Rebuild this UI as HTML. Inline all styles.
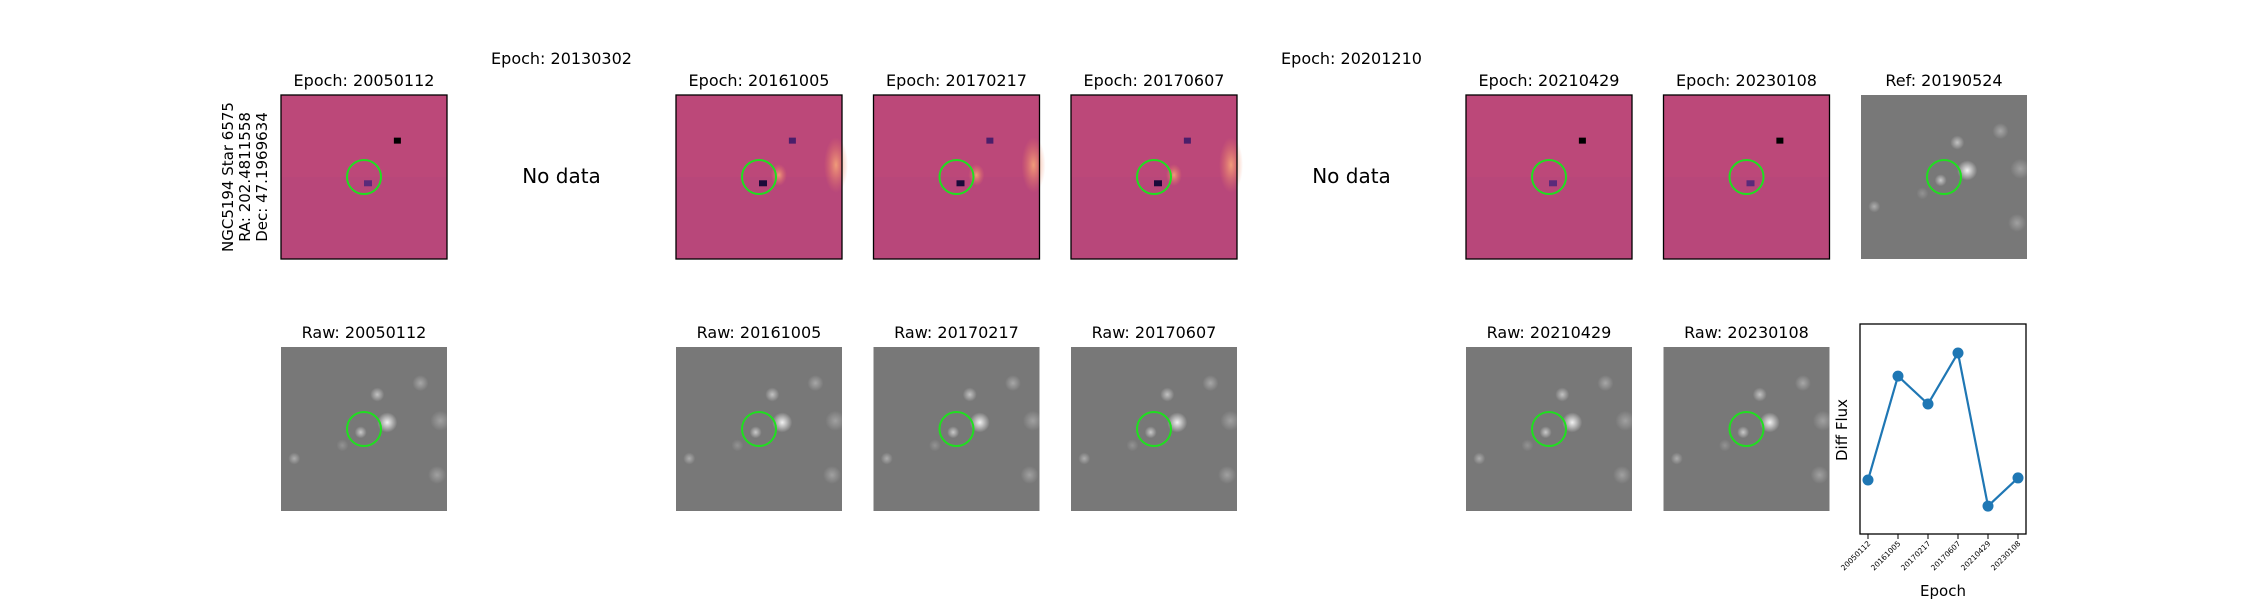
<!DOCTYPE html>
<html><head><meta charset="utf-8">
<style>
html,body{margin:0;padding:0;background:#fff;}
body{width:2250px;height:600px;position:relative;overflow:hidden;font-family:"DejaVu Sans","Liberation Sans",sans-serif;}
svg{position:absolute;left:0;top:0;}
</style></head>
<body>
<svg id="fig" width="2250" height="600" viewBox="0 0 2250 600" xmlns="http://www.w3.org/2000/svg">
<defs>
<radialGradient id="star" cx="50%" cy="50%" r="50%">
<stop offset="0%" stop-color="#ffffff" stop-opacity="1"/>
<stop offset="100%" stop-color="#ffffff" stop-opacity="0"/>
</radialGradient>
<radialGradient id="hot" cx="50%" cy="50%" r="50%">
<stop offset="0%" stop-color="#fdb07a" stop-opacity="1"/>
<stop offset="100%" stop-color="#f08060" stop-opacity="0"/>
</radialGradient>
</defs>
<g id="panels"></g>
<g id="chart"></g>
</svg>
<script>
const NS='http://www.w3.org/2000/svg';
function mk(tag,attrs,parent){const e=document.createElementNS(NS,tag);for(const k in attrs)e.setAttribute(k,attrs[k]);parent.appendChild(e);return e;}
const panels=document.getElementById('panels');
const colX=c=>281+197.5*c;
const W=166,H=164,TOP=95,BOT=347;

const diffEpochs=['20050112','20130302','20161005','20170217','20170607','20201210','20210429','20230108'];
const hasData=[true,false,true,true,true,false,true,true];

function title(x,y,txt,name){const t=mk('text',{x:x,y:y,'text-anchor':'middle','font-size':'16','fill':'#000'},panels);t.textContent=txt;}

function diffPanel(c,ep){
  const x=colX(c);
  const g=mk('g',{},panels);
  
  
  mk('rect',{x:x,y:TOP,width:W,height:H,fill:'#b8477a'},g);
  mk('rect',{x:x,y:TOP,width:W,height:H/2,fill:'#c04a78',opacity:0.5},g);
  if(c>=2&&c<=4){mk('ellipse',{cx:x+W-6,cy:TOP+70,rx:12,ry:28,fill:'url(#hot)',opacity:0.8},g);mk('ellipse',{cx:x+W*0.62,cy:TOP+80,rx:8,ry:11,fill:'url(#hot)',opacity:0.8},g);}
  mk('rect',{x:x+W*0.5,y:TOP+H*0.52,width:8,height:6,fill:c>=2&&c<=4?'#1a0a3a':'#5a2a7a'},g);
  mk('rect',{x:x+W*0.68,y:TOP+H*0.26,width:7,height:6,fill:c===6||c===7||c===0?'#000':'#4a1e6a'},g);
  mk('circle',{cx:x+W*0.5,cy:TOP+H*0.5,r:17,fill:'none',stroke:'#1fe01f','stroke-width':2},g);
  mk('rect',{x:x,y:TOP,width:W,height:H,fill:'none',stroke:'#000','stroke-width':1.3},g);
}
function grayPanel(x,y,name){
  const g=mk('g',{},panels);
  
  
  mk('rect',{x:x,y:y,width:W,height:H,fill:'#787878'},g);
  const spots=[[0.64,0.46,10,0.9],[0.58,0.29,7,0.55],[0.84,0.22,8,0.35],[0.48,0.52,6,0.6],[0.08,0.68,6,0.4],[0.96,0.45,10,0.3],[0.94,0.78,9,0.3],[0.37,0.6,6,0.2]];
  spots.forEach(s=>mk('circle',{cx:x+W*s[0],cy:y+H*s[1],r:s[2],fill:'url(#star)',opacity:s[3]},g));
  mk('circle',{cx:x+W*0.5,cy:y+H*0.5,r:17,fill:'none',stroke:'#1fe01f','stroke-width':2},g);
}

diffEpochs.forEach((ep,c)=>{
  const cx=colX(c)+W/2;
  if(hasData[c]){
    title(cx,86,'Epoch: '+ep,'diff-title-'+ep);
    diffPanel(c,ep);
    title(cx,338,'Raw: '+ep,'raw-title-'+ep);
    grayPanel(colX(c),BOT,'raw-image-'+ep);
  } else {
    title(cx,64,'Epoch: '+ep,'diff-title-'+ep);
    const t=mk('text',{x:cx,y:183,'text-anchor':'middle','font-size':'20','fill':'#000'},panels);
    t.textContent='No data';
    
    
  }
});
title(colX(8)+W/2,86,'Ref: 20190524','ref-title');
grayPanel(colX(8),TOP,'ref-image');

const side=mk('text',{transform:'translate(250,177) rotate(-90)','text-anchor':'middle','font-size':'15','fill':'#000'},panels);


['NGC5194 Star 6575','RA: 202.4811558','Dec: 47.1969634'].forEach((s,i)=>{const ts=mk('tspan',{x:0,dy:i===0?'-17':'17'},side);ts.textContent=s;});

// chart
const categories=['20050112','20161005','20170217','20170607','20210429','20230108'];
const fluxValues=[0.257,0.752,0.619,0.862,0.133,0.267];
const yDomain=[0,1];
const chart=document.getElementById('chart');
const PX0=1860,PX1=2026,PY0=324,PY1=534;
const xScale=i=>1868+i*30;
const yScale=v=>PY1-(v-yDomain[0])/(yDomain[1]-yDomain[0])*(PY1-PY0);
const frame=mk('rect',{x:PX0,y:PY0,width:PX1-PX0,height:PY1-PY0,fill:'#fff',stroke:'#000','stroke-width':1.3},chart);


const line=mk('polyline',{points:fluxValues.map((v,i)=>xScale(i)+','+yScale(v)).join(' '),fill:'none',stroke:'#1f77b4','stroke-width':2.2},chart);


fluxValues.forEach((v,i)=>{
  const p=mk('circle',{cx:xScale(i),cy:yScale(v),r:5.5,fill:'#1f77b4'},chart);
  
  
  mk('line',{x1:xScale(i),x2:xScale(i),y1:PY1,y2:PY1+5,stroke:'#000','stroke-width':1},chart);
  const t=mk('text',{transform:'translate('+(xScale(i)+3)+','+(PY1+10)+') rotate(-45)','text-anchor':'end','font-size':'7.5','fill':'#000'},chart);
  t.textContent=categories[i];
  
  
});
const xl=mk('text',{x:1943,y:596,'text-anchor':'middle','font-size':'15','fill':'#000'},chart);
xl.textContent='Epoch';


const yl=mk('text',{transform:'translate(1847,430) rotate(-90)','text-anchor':'middle','font-size':'15','fill':'#000'},chart);
yl.textContent='Diff Flux';


</script>
</body></html>
